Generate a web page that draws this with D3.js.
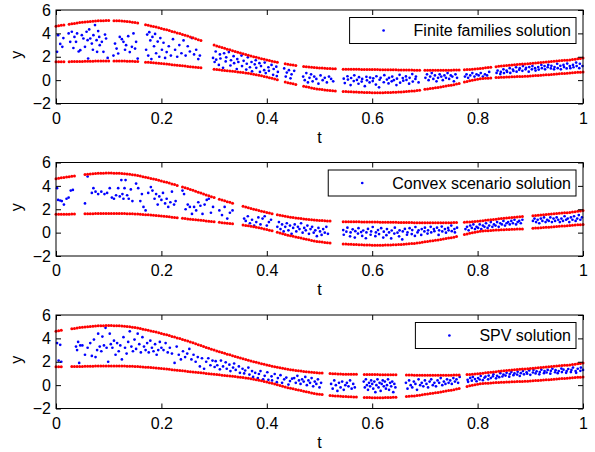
<!DOCTYPE html>
<html>
<head>
<meta charset="utf-8">
<script src="https://cdn.jsdelivr.net/npm/d3@7"></script>
<style>
body { margin: 0; background: #fff; }
svg { display: block; }
text { font-family: "Liberation Sans", Arial, Helvetica, sans-serif; }
</style>
</head>
<body>
<script>
// time grid the bounds were evaluated on
const boundT = [
  0,.005,.01,.015,.02,.025,.03,.035,.04,.045,
  .05,.055,.06,.065,.07,.075,.08,.085,.09,.095,
  .1,.105,.11,.115,.12,.125,.13,.135,.14,.145,
  .15,.155,.16,.165,.17,.175,.18,.185,.19,.195,
  .2,.205,.21,.215,.22,.225,.23,.235,.24,.245,
  .25,.255,.26,.265,.27,.275,.28,.285,.29,.295,
  .3,.305,.31,.315,.32,.325,.33,.335,.34,.345,
  .35,.355,.36,.365,.37,.375,.38,.385,.39,.395,
  .4,.405,.41,.415,.42,.425,.43,.435,.44,.445,
  .45,.455,.46,.465,.47,.475,.48,.485,.49,.495,
  .5,.505,.51,.515,.52,.525,.53,.535,.54,.545,
  .55,.555,.56,.565,.57,.575,.58,.585,.59,.595,
  .6,.605,.61,.615,.62,.625,.63,.635,.64,.645,
  .65,.655,.66,.665,.67,.675,.68,.685,.69,.695,
  .7,.705,.71,.715,.72,.725,.73,.735,.74,.745,
  .75,.755,.76,.765,.77,.775,.78,.785,.79,.795,
  .8,.805,.81,.815,.82,.825,.83,.835,.84,.845,
  .85,.855,.86,.865,.87,.875,.88,.885,.89,.895,
  .9,.905,.91,.915,.92,.925,.93,.935,.94,.945,
  .95,.955,.96,.965,.97,.975,.98,.985,.99,.995,
  1
];

const upperBound = [
  4.62,4.66,4.69,4.72,4.76,4.79,4.82,4.85,4.88,4.92,
  4.95,4.97,5.00,5.02,5.04,5.06,5.07,5.08,5.09,5.10,
  5.10,5.10,5.09,5.08,5.07,5.06,5.04,5.02,4.99,4.96,
  4.92,4.88,4.84,4.79,4.74,4.69,4.64,4.59,4.54,4.48,
  4.42,4.36,4.30,4.24,4.17,4.11,4.04,3.98,3.91,3.85,
  3.78,3.70,3.62,3.54,3.46,3.38,3.30,3.22,3.15,3.07,
  3.00,2.93,2.86,2.79,2.72,2.65,2.59,2.52,2.45,2.39,
  2.32,2.26,2.19,2.13,2.07,2.01,1.95,1.89,1.83,1.78,
  1.72,1.67,1.62,1.57,1.52,1.48,1.44,1.40,1.36,1.32,
  1.29,1.26,1.23,1.20,1.17,1.15,1.12,1.10,1.08,1.06,
  1.04,1.03,1.01,1.00,0.99,0.98,0.97,0.96,0.95,0.94,
  0.94,0.93,0.93,0.92,0.92,0.92,0.91,0.91,0.91,0.91,
  0.90,0.90,0.90,0.89,0.89,0.89,0.89,0.88,0.88,0.88,
  0.87,0.87,0.87,0.86,0.86,0.86,0.85,0.85,0.85,0.85,
  0.84,0.84,0.84,0.84,0.84,0.84,0.84,0.84,0.84,0.85,
  0.85,0.86,0.86,0.87,0.88,0.89,0.90,0.91,0.93,0.95,
  0.97,0.99,1.02,1.05,1.07,1.10,1.13,1.15,1.18,1.20,
  1.22,1.25,1.27,1.29,1.31,1.33,1.35,1.37,1.39,1.41,
  1.43,1.45,1.47,1.49,1.51,1.53,1.55,1.57,1.59,1.61,
  1.63,1.65,1.67,1.69,1.71,1.73,1.76,1.79,1.82,1.86,
  1.90
];

const lowerBound = [
  1.57,1.57,1.57,1.58,1.58,1.58,1.59,1.59,1.59,1.60,
  1.60,1.61,1.61,1.62,1.62,1.63,1.63,1.63,1.64,1.64,
  1.64,1.64,1.64,1.64,1.63,1.63,1.63,1.62,1.62,1.61,
  1.60,1.59,1.57,1.56,1.54,1.52,1.50,1.48,1.46,1.44,
  1.42,1.40,1.37,1.35,1.32,1.30,1.27,1.25,1.22,1.20,
  1.17,1.15,1.12,1.10,1.07,1.05,1.03,1.00,0.98,0.95,
  0.93,0.90,0.88,0.85,0.83,0.80,0.78,0.75,0.73,0.70,
  0.68,0.65,0.61,0.58,0.54,0.50,0.46,0.42,0.37,0.32,
  0.27,0.21,0.15,0.09,0.03,-0.04,-0.10,-0.16,-0.22,-0.27,
  -0.32,-0.37,-0.42,-0.47,-0.52,-0.57,-0.62,-0.67,-0.71,-0.75,
  -0.78,-0.81,-0.84,-0.86,-0.88,-0.90,-0.92,-0.94,-0.95,-0.97,
  -0.98,-0.99,-1.00,-1.01,-1.02,-1.03,-1.04,-1.05,-1.06,-1.06,
  -1.07,-1.07,-1.07,-1.07,-1.07,-1.06,-1.06,-1.05,-1.04,-1.03,
  -1.02,-1.01,-1.00,-0.98,-0.96,-0.94,-0.92,-0.89,-0.86,-0.82,
  -0.78,-0.75,-0.72,-0.69,-0.66,-0.63,-0.59,-0.55,-0.51,-0.47,
  -0.44,-0.39,-0.34,-0.29,-0.23,-0.17,-0.11,-0.05,0.00,0.04,
  0.08,0.11,0.13,0.15,0.17,0.19,0.21,0.22,0.23,0.24,
  0.25,0.26,0.27,0.28,0.29,0.30,0.31,0.32,0.33,0.34,
  0.36,0.37,0.39,0.40,0.42,0.43,0.45,0.46,0.48,0.50,
  0.52,0.54,0.56,0.57,0.59,0.61,0.63,0.65,0.67,0.68,
  0.70
];

// stretches of t with no samples, per method
const familiesGaps = [[0.016,0.022],[0.1,0.107],[0.157,0.17],[0.275,0.297],[0.424,0.432],[0.455,0.468],[0.53,0.545],[0.69,0.7],[0.765,0.775],[0.825,0.835]];
const convexGaps = [[0.036,0.052],[0.23,0.238],[0.3,0.308],[0.338,0.355],[0.41,0.418],[0.52,0.543],[0.762,0.775],[0.886,0.903]];
const spvGaps = [[0.012,0.03],[0.507,0.52],[0.57,0.583],[0.646,0.662],[0.767,0.78]];

// sampled solutions [t, y]
const familiesPts = [
  [0.002,2.42],[0.004,3.85],[0.008,3.1],[0.012,2.85],[0.014,3.6],[0.024,4.0],[0.027,3.28],[0.030,4.14],[0.033,2.75],[0.035,3.7],
  [0.038,3.28],[0.040,4.0],[0.043,2.45],[0.046,2.56],[0.049,3.85],[0.052,3.56],[0.055,2.85],[0.058,4.14],[0.060,3.42],[0.061,1.85],
  [0.063,4.34],[0.065,3.56],[0.068,3.13],[0.070,2.6],[0.071,3.85],[0.074,4.71],[0.077,3.42],[0.078,2.42],[0.080,4.2],[0.082,3.7],
  [0.083,2.99],[0.087,3.28],[0.090,2.42],[0.093,3.9],[0.095,3.56],[0.098,1.9],
  [0.109,2.1],[0.112,3.13],[0.115,2.7],[0.118,2.28],[0.121,3.7],[0.125,3.5],[0.128,3.28],[0.131,2.6],[0.133,2.99],[0.137,3.76],
  [0.140,2.4],[0.144,2.85],[0.147,4.0],[0.150,2.7],[0.152,3.28],[0.155,1.84],
  [0.171,2.6],[0.173,3.9],[0.175,2.1],[0.177,4.1],[0.179,3.4],[0.181,1.8],[0.183,3.7],[0.186,2.9],[0.188,3.95],[0.190,2.3],
  [0.193,3.3],[0.196,2.0],[0.198,3.6],[0.201,2.6],[0.204,3.2],[0.207,1.9],[0.210,2.4],[0.214,2.9],[0.218,2.1],[0.222,3.5],
  [0.226,2.6],[0.230,2.0],[0.234,3.0],[0.238,2.3],[0.242,3.4],[0.246,2.1],[0.250,2.9],[0.254,2.45],[0.258,3.6],[0.262,2.2],
  [0.266,2.6],[0.270,1.8],[0.273,2.1],
  [0.298,1.9],[0.301,1.55],[0.303,2.45],[0.304,1.75],[0.309,1.3],[0.311,2.2],[0.312,1.85],[0.317,1.05],[0.319,2.3],[0.322,1.6],
  [0.323,1.95],[0.328,2.4],[0.331,1.25],[0.332,1.7],[0.337,2.05],[0.338,1.45],[0.343,0.95],[0.344,1.8],[0.346,1.55],[0.352,2.1],
  [0.353,1.2],[0.356,1.65],[0.361,0.9],[0.362,1.4],[0.364,1.95],[0.368,1.1],[0.371,1.55],[0.372,0.75],[0.377,1.35],[0.379,1.7],
  [0.380,1.05],[0.386,1.45],[0.387,0.7],[0.389,1.2],[0.395,0.85],[0.396,1.5],[0.398,0.6],[0.403,1.1],[0.404,0.8],[0.409,1.3],
  [0.412,0.45],[0.413,0.95],[0.418,1.15],[0.419,0.35],[0.421,0.7],[0.433,1.0],[0.436,0.3],[0.438,0.65],[0.442,0.85],[0.445,0.15],
  [0.447,0.5],[0.452,0.8],
  [0.469,0.3],[0.472,0.0],[0.475,0.6],[0.478,-0.2],[0.481,0.2],[0.484,0.5],[0.487,-0.1],[0.490,0.3],[0.494,0.1],[0.498,-0.3],
  [0.502,0.4],[0.506,0.0],[0.510,0.2],[0.514,-0.2],[0.518,0.3],[0.522,0.1],[0.526,-0.1],
  [0.546,0.12],[0.548,-0.25],[0.553,0.33],[0.554,0.05],[0.559,-0.42],[0.560,0.18],[0.565,-0.08],[0.566,0.41],[0.571,0.02],[0.574,-0.31],
  [0.575,0.25],[0.580,-0.12],[0.581,0.1],[0.586,-0.52],[0.589,0.28],[0.590,-0.02],[0.595,-0.2],[0.596,0.22],[0.601,-0.08],[0.602,0.15],
  [0.607,-0.38],[0.608,0.33],[0.613,-0.62],[0.614,0.03],[0.616,0.2],[0.622,-0.18],[0.623,0.42],[0.628,0.05],[0.631,-0.28],[0.632,0.2],
  [0.637,-0.1],[0.638,0.3],[0.641,0.0],[0.646,-0.42],[0.647,0.12],[0.652,0.45],[0.653,-0.22],[0.658,0.18],[0.659,-0.05],[0.664,0.32],
  [0.665,0.02],[0.670,-0.3],[0.671,0.2],[0.676,0.52],[0.677,-0.12],[0.682,0.1],[0.683,0.3],[0.688,-0.2],
  [0.701,0.2],[0.704,0.5],[0.707,0.0],[0.710,0.3],[0.713,0.6],[0.716,0.1],[0.719,0.4],[0.722,-0.1],[0.725,0.2],[0.728,0.5],
  [0.731,0.3],[0.734,0.0],[0.737,0.4],[0.740,0.2],[0.743,0.6],[0.746,0.1],[0.749,0.4],[0.752,0.3],[0.755,-0.1],[0.758,0.5],
  [0.761,0.2],
  [0.776,0.3],[0.779,0.5],[0.782,0.2],[0.786,0.4],[0.790,0.6],[0.794,0.3],[0.798,0.5],[0.802,0.4],[0.806,0.6],[0.810,0.3],
  [0.814,0.5],[0.818,0.4],[0.822,0.7],
  [0.836,0.62],[0.838,0.82],[0.843,0.52],[0.844,0.7],[0.849,0.92],[0.850,0.6],[0.855,0.82],[0.856,0.7],[0.861,1.02],[0.862,0.62],
  [0.867,0.9],[0.868,0.78],[0.873,1.1],[0.874,0.72],[0.879,0.88],[0.880,1.02],[0.885,0.8],[0.886,1.2],[0.891,0.92],[0.892,1.05],
  [0.897,0.72],[0.898,1.12],[0.903,0.92],[0.904,1.2],[0.909,1.02],[0.910,0.82],[0.915,1.12],[0.916,0.9],[0.921,1.3],[0.922,1.02],
  [0.927,1.2],[0.928,0.92],[0.933,1.1],[0.934,1.3],[0.939,1.0],[0.940,1.22],[0.945,0.92],[0.946,1.12],[0.951,1.4],[0.952,1.02],
  [0.957,1.22],[0.958,0.92],[0.963,1.3],[0.964,1.12],[0.969,1.0],[0.970,1.42],[0.975,1.2],[0.976,1.02],[0.981,1.3],[0.982,1.1],
  [0.987,1.5],[0.988,1.2],[0.993,1.02],[0.994,1.4],[0.999,1.2]
];

const convexPts = [
  [0.002,3.8],[0.004,2.8],[0.008,2.75],[0.011,2.7],[0.015,2.4],[0.020,2.9],[0.024,3.0],[0.028,3.6],[0.032,3.65],
  [0.055,2.5],[0.060,4.8],[0.068,3.4],[0.071,3.8],[0.075,3.5],[0.080,3.3],[0.086,3.5],[0.092,3.3],[0.097,3.4],[0.102,3.8],
  [0.106,3.0],[0.110,2.9],[0.114,3.2],[0.118,3.8],[0.121,3.1],[0.124,4.5],[0.126,3.3],[0.128,2.9],[0.130,3.8],[0.132,4.5],
  [0.135,3.2],[0.138,2.9],[0.142,3.7],[0.145,2.7],[0.152,4.2],[0.156,3.8],[0.160,2.7],[0.163,3.3],[0.166,2.2],[0.170,1.9],
  [0.175,3.4],[0.180,3.9],[0.183,3.6],[0.187,2.9],[0.190,3.3],[0.193,2.4],[0.196,3.1],[0.200,2.8],[0.203,3.4],[0.207,2.5],
  [0.210,2.9],[0.213,2.2],[0.217,2.6],[0.220,3.5],[0.224,2.4],[0.227,2.7],
  [0.240,3.6],[0.243,3.3],[0.246,2.0],[0.250,2.4],[0.254,2.2],[0.258,1.6],[0.262,2.2],[0.266,1.9],[0.270,2.6],[0.274,2.3],
  [0.278,1.6],[0.282,2.4],[0.286,2.8],[0.290,2.9],[0.294,1.7],[0.298,2.2],
  [0.310,1.9],[0.315,1.5],[0.320,2.2],[0.325,1.2],[0.330,1.7],[0.335,1.9],
  [0.357,1.2],[0.360,1.0],[0.364,1.4],[0.368,0.8],[0.372,1.1],[0.376,0.6],[0.380,0.9],[0.384,1.3],[0.388,0.7],[0.392,1.2],
  [0.396,1.4],[0.400,0.6],[0.404,0.9],[0.408,1.1],
  [0.420,0.5],[0.423,0.9],[0.426,0.3],[0.429,0.7],[0.432,0.1],[0.435,0.5],[0.438,0.8],[0.441,0.2],[0.444,0.6],[0.447,-0.1],
  [0.450,0.4],[0.453,0.7],[0.456,0.1],[0.459,0.5],[0.462,0.3],[0.465,0.8],[0.468,0.0],[0.471,0.4],[0.474,0.2],[0.477,0.6],
  [0.480,-0.1],[0.483,0.3],[0.486,0.5],[0.489,0.0],[0.492,0.2],[0.495,-0.3],[0.498,0.4],[0.501,0.1],[0.504,-0.2],[0.507,0.3],
  [0.510,0.0],[0.513,0.5],[0.516,-0.1],
  [0.545,0.22],[0.546,-0.18],[0.551,0.08],[0.553,0.42],[0.558,-0.32],[0.559,0.02],[0.563,0.28],[0.567,-0.42],[0.568,0.12],[0.573,-0.08],
  [0.574,0.38],[0.579,0.05],[0.581,-0.28],[0.583,0.18],[0.588,-0.48],[0.589,0.02],[0.592,0.32],[0.597,-0.18],[0.598,0.1],[0.601,0.48],
  [0.606,-0.3],[0.607,0.02],[0.611,0.22],[0.613,-0.12],[0.617,0.38],[0.621,-0.42],[0.622,0.08],[0.627,-0.22],[0.628,0.3],[0.632,0.02],
  [0.636,-0.5],[0.637,0.18],[0.642,-0.08],[0.643,0.42],[0.648,0.0],[0.651,-0.32],[0.652,0.2],[0.657,-0.58],[0.658,0.1],[0.662,0.32],
  [0.666,-0.18],[0.667,0.02],[0.671,0.38],[0.675,-0.12],[0.676,0.22],[0.681,-0.28],[0.682,0.48],[0.686,0.02],[0.688,0.2],[0.693,-0.2],
  [0.694,0.3],[0.699,0.1],[0.700,0.42],[0.705,-0.08],[0.706,0.2],[0.711,0.5],[0.712,0.02],[0.717,0.3],[0.718,0.12],[0.723,0.42],
  [0.726,-0.2],[0.727,0.2],[0.732,0.52],[0.733,0.1],[0.738,0.3],[0.740,0.0],[0.744,0.4],[0.745,0.2],[0.750,0.6],[0.751,0.12],
  [0.756,0.3],[0.757,0.02],[0.761,0.42],
  [0.777,0.3],[0.780,0.5],[0.783,0.2],[0.786,0.6],[0.789,0.4],[0.792,0.7],[0.795,0.3],[0.798,0.5],[0.801,0.4],[0.804,0.7],
  [0.807,0.3],[0.810,0.6],[0.813,0.5],[0.816,0.8],[0.819,0.4],[0.822,0.6],[0.825,0.9],[0.828,0.5],[0.831,0.7],[0.834,0.6],
  [0.837,0.9],[0.840,0.5],[0.843,0.8],[0.846,0.7],[0.849,1.0],[0.852,0.6],[0.855,0.8],[0.858,0.9],[0.861,0.7],[0.864,1.0],
  [0.867,0.8],[0.870,1.1],[0.873,0.7],[0.876,0.9],[0.879,1.0],[0.882,0.8],[0.885,1.1],
  [0.905,1.0],[0.908,1.2],[0.911,0.9],[0.914,1.1],[0.917,0.8],[0.920,1.2],[0.923,1.0],[0.926,1.3],[0.929,0.9],[0.932,1.1],
  [0.935,1.0],[0.938,1.3],[0.941,0.9],[0.944,1.2],[0.947,1.0],[0.950,1.3],[0.953,1.1],[0.956,0.9],[0.959,1.2],[0.962,1.0],
  [0.965,1.4],[0.968,1.1],[0.971,1.2],[0.974,0.9],[0.977,1.3],[0.980,1.1],[0.983,1.4],[0.986,1.0],[0.989,1.2],[0.992,1.5],
  [0.995,1.1],[0.998,1.3]
];

const spvPts = [
  [0.002,3.6],[0.005,2.1],[0.008,3.45],[0.010,2.0],
  [0.038,3.3],[0.040,3.0],[0.042,3.7],[0.044,1.9],[0.046,3.4],[0.050,3.4],[0.055,2.6],[0.060,3.2],[0.065,3.6],[0.068,2.5],
  [0.072,3.9],[0.075,2.4],[0.078,3.0],[0.080,4.4],[0.083,3.3],[0.086,2.9],[0.088,4.15],[0.091,3.4],[0.094,4.9],[0.096,3.2],
  [0.099,2.0],
  [0.102,4.4],[0.104,3.5],[0.107,3.2],[0.110,3.8],[0.113,2.6],[0.116,3.6],[0.119,2.9],[0.122,3.4],[0.125,2.2],[0.128,4.1],
  [0.131,3.2],[0.134,2.7],[0.137,3.7],[0.140,4.6],[0.143,3.3],[0.146,2.9],[0.149,3.9],[0.152,3.1],[0.155,4.4],[0.158,3.5],
  [0.161,2.8],[0.164,4.1],[0.167,3.3],[0.170,3.0],[0.173,3.6],[0.176,2.8],[0.179,3.8],[0.182,3.2],[0.185,2.9],[0.188,3.5],
  [0.191,2.6],[0.194,3.0],[0.197,3.7],[0.200,3.2],
  [0.204,3.0],[0.208,3.6],[0.212,2.8],[0.216,3.2],[0.220,2.7],[0.225,1.9],[0.229,3.3],[0.233,2.6],[0.237,2.2],[0.241,2.9],
  [0.245,2.4],[0.249,2.7],[0.253,3.1],[0.257,2.2],[0.261,2.6],[0.265,2.0],[0.269,2.4],[0.273,1.6],[0.277,2.3],[0.281,1.4],
  [0.285,2.0],[0.289,2.3],[0.293,1.7],[0.297,2.1],
  [0.301,1.55],[0.303,2.05],[0.306,1.7],[0.311,1.35],[0.313,2.1],[0.317,1.6],[0.322,1.95],[0.324,1.4],[0.329,1.75],[0.331,1.2],
  [0.336,1.5],[0.338,1.85],[0.341,1.3],[0.347,1.6],[0.349,1.05],[0.354,1.4],[0.357,1.0],[0.359,1.25],[0.365,1.5],[0.367,0.9],
  [0.372,1.2],[0.374,0.7],[0.378,1.05],[0.383,0.6],[0.385,0.95],[0.388,1.2],[0.393,0.5],[0.396,0.8],[0.401,1.1],[0.403,0.45],
  [0.409,0.75],[0.410,0.4],[0.415,0.95],[0.419,0.25],[0.421,0.6],[0.426,0.85],[0.429,0.2],[0.433,0.5],[0.437,0.65],[0.441,0.05],
  [0.444,0.35],[0.448,0.55],
  [0.452,0.6],[0.455,0.2],[0.458,0.8],[0.461,0.4],[0.464,0.1],[0.467,0.5],[0.470,0.3],[0.473,0.7],[0.476,0.0],[0.479,0.4],
  [0.482,0.2],[0.485,0.6],[0.488,-0.1],[0.491,0.3],[0.494,0.1],[0.497,0.5],[0.500,-0.2],[0.503,0.2],
  [0.522,0.1],[0.525,-0.3],[0.528,0.4],[0.531,0.0],[0.534,-0.5],[0.537,0.2],[0.540,-0.2],[0.543,0.3],[0.546,-0.4],[0.549,0.0],
  [0.552,0.2],[0.555,-0.1],[0.558,0.4],[0.561,-0.3],[0.564,0.1],[0.567,-0.2],
  [0.584,0.3],[0.586,-0.2],[0.588,0.5],[0.590,0.0],[0.592,-0.4],[0.594,0.2],[0.596,-0.1],[0.598,0.4],[0.600,0.1],[0.602,-0.3],
  [0.604,0.3],[0.606,-0.6],[0.608,0.0],[0.610,0.5],[0.612,-0.2],[0.614,0.2],[0.616,-0.5],[0.618,0.1],[0.620,0.4],[0.622,-0.1],
  [0.624,0.3],[0.626,-0.3],[0.628,0.0],[0.630,0.5],[0.632,-0.4],[0.634,0.2],[0.636,-0.1],[0.638,0.3],[0.640,-0.6],[0.642,0.1],
  [0.644,-0.2],
  [0.664,0.2],[0.667,-0.3],[0.670,0.4],[0.673,0.0],[0.676,-0.2],[0.679,0.3],[0.682,0.1],[0.685,-0.4],[0.688,0.5],[0.691,0.0],
  [0.694,0.2],[0.697,-0.1],[0.700,0.4],[0.703,0.1],[0.706,-0.2],[0.709,0.3],[0.712,0.5],[0.715,0.0],[0.718,0.2],[0.721,-0.1],
  [0.724,0.4],[0.727,0.2],[0.730,0.6],[0.733,0.0],[0.736,0.3],[0.739,0.1],[0.742,0.5],[0.745,0.2],[0.748,0.4],[0.751,0.1],
  [0.754,0.6],[0.757,0.3],[0.760,0.5],[0.763,0.2],[0.766,0.7],
  [0.781,0.45],[0.782,0.28],[0.786,0.62],[0.789,0.38],[0.791,0.7],[0.795,0.52],[0.798,0.33],[0.801,0.6],[0.804,0.48],[0.806,0.78],
  [0.810,0.42],[0.813,0.63],[0.815,0.72],[0.820,0.5],[0.821,0.82],[0.825,0.6],[0.829,0.75],[0.830,0.92],[0.835,0.58],[0.837,0.8],
  [0.841,0.68],[0.843,1.02],[0.847,0.74],[0.849,0.9],[0.853,0.82],[0.855,1.05],[0.860,0.72],[0.861,0.95],[0.864,1.12],[0.868,0.85],
  [0.870,1.0],[0.875,0.9],[0.876,1.15],[0.880,0.78],[0.882,1.02],[0.886,1.2],[0.888,0.92],[0.893,1.1],[0.894,0.98],[0.898,1.25],
  [0.900,0.88],[0.905,1.08],[0.906,1.3],[0.910,1.0],[0.912,1.18],[0.917,0.92],[0.918,1.12],[0.921,1.32],[0.926,1.02],[0.927,1.2],
  [0.931,1.08],[0.933,1.3],[0.938,0.98],[0.939,1.22],[0.942,1.4],[0.947,1.1],[0.948,1.28],[0.952,1.02],[0.954,1.2],[0.959,1.42],
  [0.960,1.12],[0.963,1.32],[0.968,1.05],[0.969,1.2],[0.972,1.38],[0.977,1.12],[0.978,1.3],[0.981,1.5],[0.986,1.2],[0.987,1.05],
  [0.990,1.4],[0.995,1.22],[0.996,1.5],[1.000,1.3]
];

const xTicks = [0, 0.2, 0.4, 0.6, 0.8, 1];
const yTicks = [-2, 0, 2, 4, 6];

const panels = [
  {label: "Finite families solution", pts: familiesPts, gaps: familiesGaps},
  {label: "Convex scenario solution", pts: convexPts, gaps: convexGaps},
  {label: "SPV solution", pts: spvPts, gaps: spvGaps}
];

const width = 595, height = 452;
const left = 56, right = 583;
const panelTops = [10, 162.5, 315];
const panelH = 93.5;
const fontSize = 16;

const svg = d3.select("body").append("svg")
  .attr("width", width)
  .attr("height", height);

const x = d3.scaleLinear().domain([0, 1]).range([left, right]);

function inGap(t, gaps) {
  return gaps.some(g => t > g[0] && t < g[1]);
}

panels.forEach((p, k) => {
  const top = panelTops[k];
  const bottom = top + panelH;
  const y = d3.scaleLinear().domain([-2, 6]).range([bottom, top]);
  const g = svg.append("g");

  // blue samples
  g.append("g").selectAll("circle")
    .data(p.pts)
    .join("circle")
      .attr("cx", d => x(d[0]))
      .attr("cy", d => y(d[1]))
      .attr("r", 1.35)
      .attr("fill", "#0000ff");

  // red bounds at the same sample times
  const idx = d3.range(boundT.length).filter(i => !inGap(boundT[i], p.gaps));
  [upperBound, lowerBound].forEach(b => {
    g.append("g").selectAll("circle")
      .data(idx)
      .join("circle")
        .attr("cx", i => x(boundT[i]))
        .attr("cy", i => y(b[i]))
        .attr("r", 1.5)
        .attr("fill", "#ff0000");
  });

  // axes, ticks pointing inwards like matlab
  g.append("g").attr("transform", `translate(0,${bottom})`)
    .call(d3.axisBottom(x).tickValues(xTicks).tickFormat(d3.format("")).tickSizeInner(-5).tickSizeOuter(0).tickPadding(9));
  g.append("g").attr("transform", `translate(${left},0)`)
    .call(d3.axisLeft(y).tickValues(yTicks).tickSizeInner(-5).tickSizeOuter(0).tickPadding(5));
  g.append("g").attr("transform", `translate(0,${top})`)
    .call(d3.axisTop(x).tickValues(xTicks).tickFormat("").tickSizeInner(-5).tickSizeOuter(0));
  g.append("g").attr("transform", `translate(${right},0)`)
    .call(d3.axisRight(y).tickValues(yTicks).tickFormat("").tickSizeInner(-5).tickSizeOuter(0));
  g.selectAll(".domain").remove();
  g.selectAll(".tick line").attr("stroke", "#000");
  g.selectAll(".tick text").attr("font-size", fontSize).attr("fill", "#000")
    .style("font-family", '"Liberation Sans", Arial, Helvetica, sans-serif');

  g.append("rect")
    .attr("x", left).attr("y", top)
    .attr("width", right - left).attr("height", panelH)
    .attr("fill", "none").attr("stroke", "#000").attr("stroke-width", 1);

  // labels
  g.append("text")
    .attr("x", (left + right) / 2).attr("y", bottom + 39)
    .attr("text-anchor", "middle").attr("font-size", fontSize)
    .text("t");
  g.append("text")
    .attr("transform", `translate(22,${(top + bottom) / 2 - 2}) rotate(-90)`)
    .attr("text-anchor", "middle").attr("font-size", fontSize)
    .text("y");

  // legend
  const lg = g.append("g");
  const box = lg.append("rect");
  const txt = lg.append("text").attr("font-size", fontSize).text(p.label);
  const tw = txt.node().getComputedTextLength();
  const bx1 = 576, bx0 = bx1 - 5 - tw - 64;
  const by0 = top + 7.5, bh = 26;
  box.attr("x", bx0).attr("y", by0).attr("width", bx1 - bx0).attr("height", bh)
    .attr("fill", "#fff").attr("stroke", "#000").attr("stroke-width", 1);
  txt.attr("x", bx0 + 64).attr("y", by0 + bh / 2 + 5.5);
  lg.append("circle")
    .attr("cx", bx0 + 34).attr("cy", by0 + bh / 2)
    .attr("r", 1.35).attr("fill", "#0000ff");
});
</script>
</body>
</html>
